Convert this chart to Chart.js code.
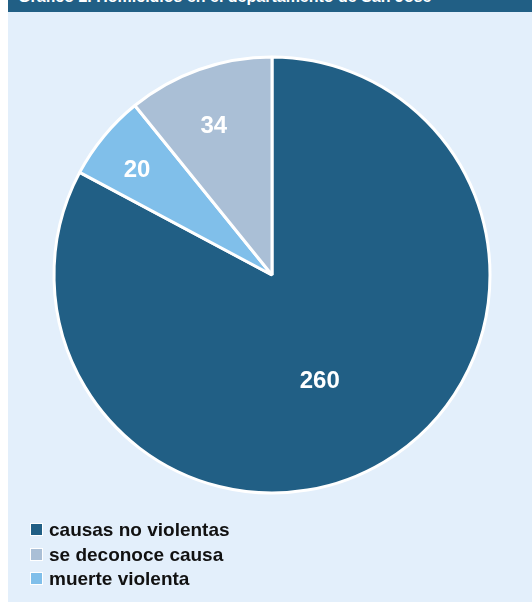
<!DOCTYPE html>
<html lang="es">
<head>
<meta charset="UTF-8">
<title>Homicidios San José</title>
<script src="https://cdn.jsdelivr.net/npm/chart.js"></script>
<style>
  html, body { margin: 0; padding: 0; background: #ffffff; }
  #wrap { position: absolute; left: 8px; top: 0; width: 524px; height: 602px; background: #e3effb; overflow: hidden; }
  #title { position: absolute; left: 0; top: 0; width: 524px; height: 12px; background: #215f85; overflow: hidden; }
  #title span { position: absolute; left: 10px; top: -12px; color: #fff; font: bold 16px "Liberation Sans", Arial, sans-serif; white-space: nowrap; }
  #box { position: absolute; left: 0; top: 12px; width: 524px; height: 526px; }
  #legend { position: absolute; left: 22px; top: 518px; font: bold 19px "Liberation Sans", Arial, sans-serif; color: #111; }
  #legend div { height: 24.5px; line-height: 24px; white-space: nowrap; }
  #legend i { display: inline-block; width: 11px; height: 11px; margin-right: 6px; vertical-align: 0px; border: 1px solid #fff; }
</style>
</head>
<body>
<div id="wrap">
  <div id="title"><span>Gráfico 2. Homicidios en el departamento de San José</span></div>
  <div id="box"><canvas id="chartPie" width="524" height="526"></canvas></div>
  <div id="legend"></div>
</div>

<script>
  // datos (orden de dibujo, en sentido horario desde arriba)
  const categorias = ['causas no violentas', 'muerte violenta', 'se deconoce causa'];
  const valores = [260, 20, 34];
  const colores = ['#215f85', '#80bfea', '#aabfd6'];
  // orden de la leyenda
  const ordenLeyenda = ['causas no violentas', 'se deconoce causa', 'muerte violenta'];

  // dónde va cada etiqueta: fracción del ángulo del sector y del radio
  const anguloEtiqueta = [0.522, 0.43, 0.454];
  const radioEtiqueta = [0.53, 0.785, 0.735];

  const etiquetas = {
    id: 'etiquetas',
    afterDatasetsDraw(chart) {
      const ctx = chart.ctx;
      const meta = chart.getDatasetMeta(0);
      ctx.save();
      ctx.fillStyle = '#ffffff';
      ctx.font = 'bold 24px "Liberation Sans", Arial, sans-serif';
      ctx.textAlign = 'center';
      ctx.textBaseline = 'middle';
      meta.data.forEach((arc, i) => {
        const p = arc.getProps(['x', 'y', 'startAngle', 'endAngle', 'outerRadius'], true);
        const a = p.startAngle + (p.endAngle - p.startAngle) * anguloEtiqueta[i];
        const r = p.outerRadius * radioEtiqueta[i];
        ctx.fillText(String(valores[i]), p.x + Math.cos(a) * r, p.y + Math.sin(a) * r + 1);
      });
      ctx.restore();
    }
  };

  new Chart(document.getElementById('chartPie').getContext('2d'), {
    type: 'pie',
    data: {
      labels: categorias,
      datasets: [{
        data: valores,
        backgroundColor: colores,
        borderColor: '#ffffff',
        borderWidth: 3,
        radius: 218
      }]
    },
    options: {
      responsive: false,
      animation: false,
      layout: { padding: { left: 4 } },
      plugins: {
        legend: { display: false },
        tooltip: { enabled: false }
      }
    },
    plugins: [etiquetas]
  });

  const leyenda = document.getElementById('legend');
  ordenLeyenda.forEach(nombre => {
    const i = categorias.indexOf(nombre);
    const fila = document.createElement('div');
    fila.innerHTML = '<i style="background:' + colores[i] + '"></i>' + nombre;
    leyenda.appendChild(fila);
  });
</script>
</body>
</html>
